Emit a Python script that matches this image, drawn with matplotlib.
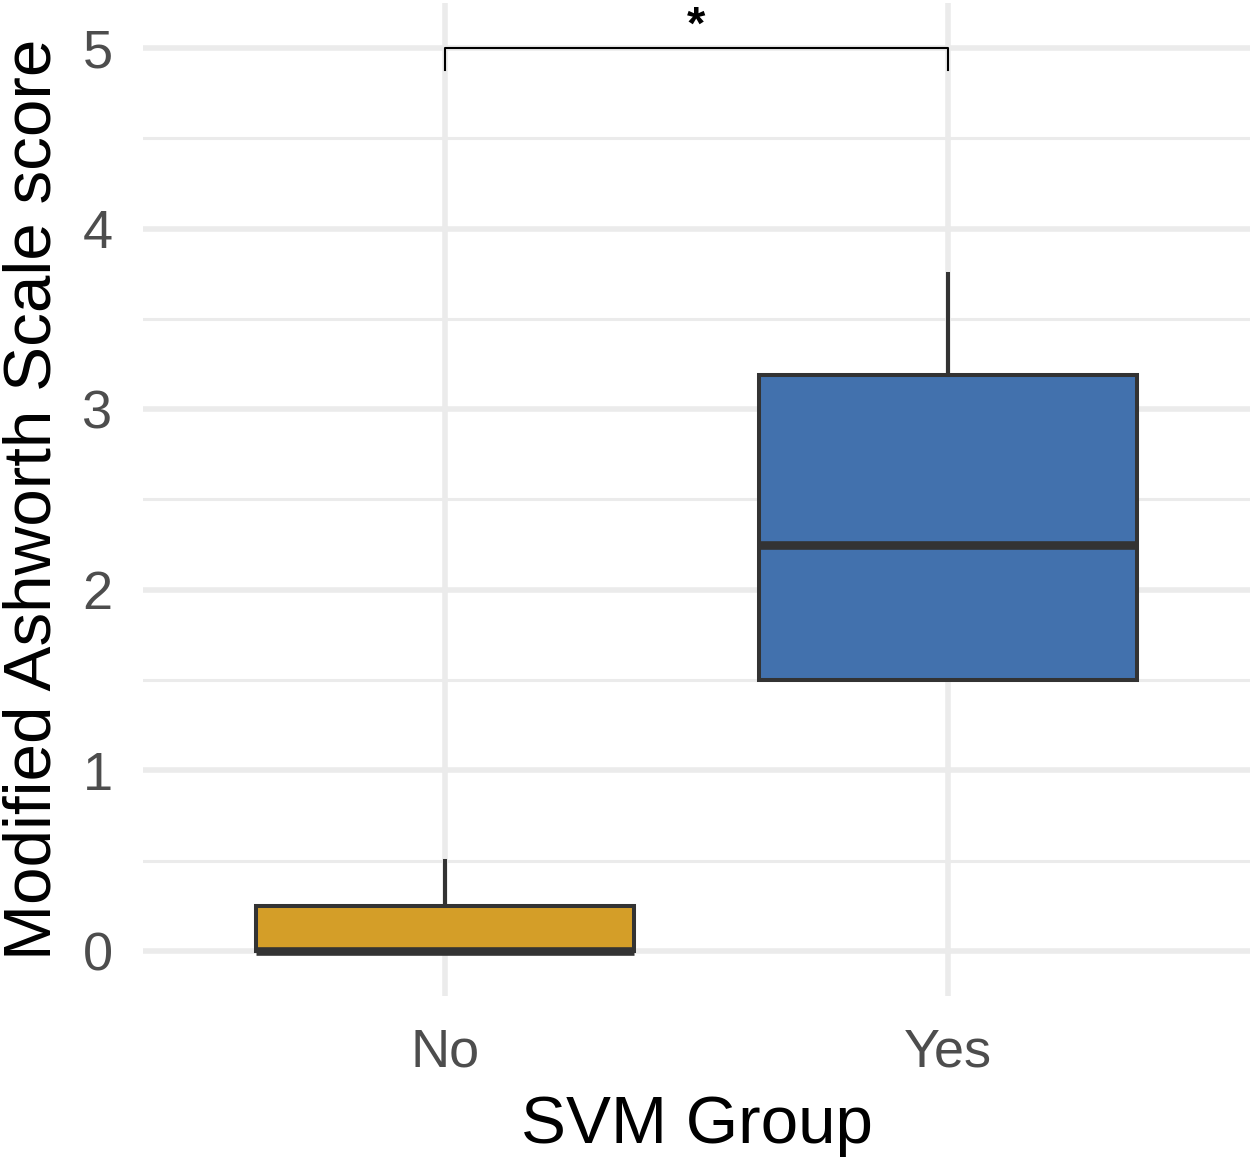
import matplotlib
matplotlib.use('Agg')
import matplotlib.pyplot as plt

# datos (cuartiles por grupo)
grupos = ['No', 'Yes']
q1 = [0.0, 1.5]
mediana = [0.0, 2.25]
q3 = [0.25, 3.1875]
bigote_inf = [0.0, 1.5]
bigote_sup = [0.5, 3.75]
colores = ['#D49E28', '#4271AD']
y_ticks = [0, 1, 2, 3, 4, 5]
y_minor = [0.5, 1.5, 2.5, 3.5, 4.5]
# comparacion entre grupos
bracket_y = 5.0
bracket_drop = 0.12
signif = '*'

plt.rcParams['font.family'] = ['Liberation Sans', 'DejaVu Sans']

fig = plt.figure(figsize=(12.56, 11.6), dpi=100)
ax = fig.add_axes([0.1139, 0.1414, 0.8813, 0.856])

stats = []
for i, g in enumerate(grupos):
    stats.append({'label': g, 'q1': q1[i], 'med': mediana[i], 'q3': q3[i],
                  'whislo': bigote_inf[i], 'whishi': bigote_sup[i], 'fliers': []})

pos = list(range(1, len(grupos) + 1))
bp = ax.bxp(stats, positions=pos, widths=0.75, patch_artist=True, showcaps=False,
            boxprops=dict(edgecolor='#333333', linewidth=2.9),
            medianprops=dict(color='#333333', linewidth=6.2, solid_capstyle='butt'),
            whiskerprops=dict(color='#333333', linewidth=2.9))
for patch, c in zip(bp['boxes'], colores):
    patch.set_facecolor(c)
    patch.set_zorder(3)
for l in bp['medians'] + bp['whiskers']:
    l.set_zorder(4)

# corchete de significancia
ax.plot([pos[0], pos[0], pos[1], pos[1]],
        [bracket_y - bracket_drop, bracket_y, bracket_y, bracket_y - bracket_drop],
        color='black', linewidth=1.5, zorder=5)
ax.text((pos[0] + pos[1]) / 2, bracket_y + 0.05, signif, ha='center', va='baseline',
        fontsize=34, fontweight='bold', color='black')

ax.set_xlim(0.4, 2.6)
ax.set_ylim(-0.25, 5.25)
ax.set_xticks(pos)
ax.set_xticklabels(grupos)
ax.set_yticks(y_ticks)
ax.set_yticks(y_minor, minor=True)

ax.grid(True, which='major', color='#EBEBEB', linewidth=4.0, zorder=0)
ax.grid(True, which='minor', axis='y', color='#EBEBEB', linewidth=2.2, zorder=0)
ax.set_axisbelow(True)
for s in ax.spines.values():
    s.set_visible(False)

ax.tick_params(axis='both', which='both', length=0, labelsize=39, labelcolor='#4D4D4D')
ax.tick_params(axis='y', pad=22)
ax.tick_params(axis='x', pad=23)

ax.set_xlabel('SVM Group', fontsize=48.5, labelpad=12)
ax.set_ylabel('Modified Ashworth Scale score', fontsize=48.5, labelpad=13)

plt.savefig('out.png', dpi=100)
